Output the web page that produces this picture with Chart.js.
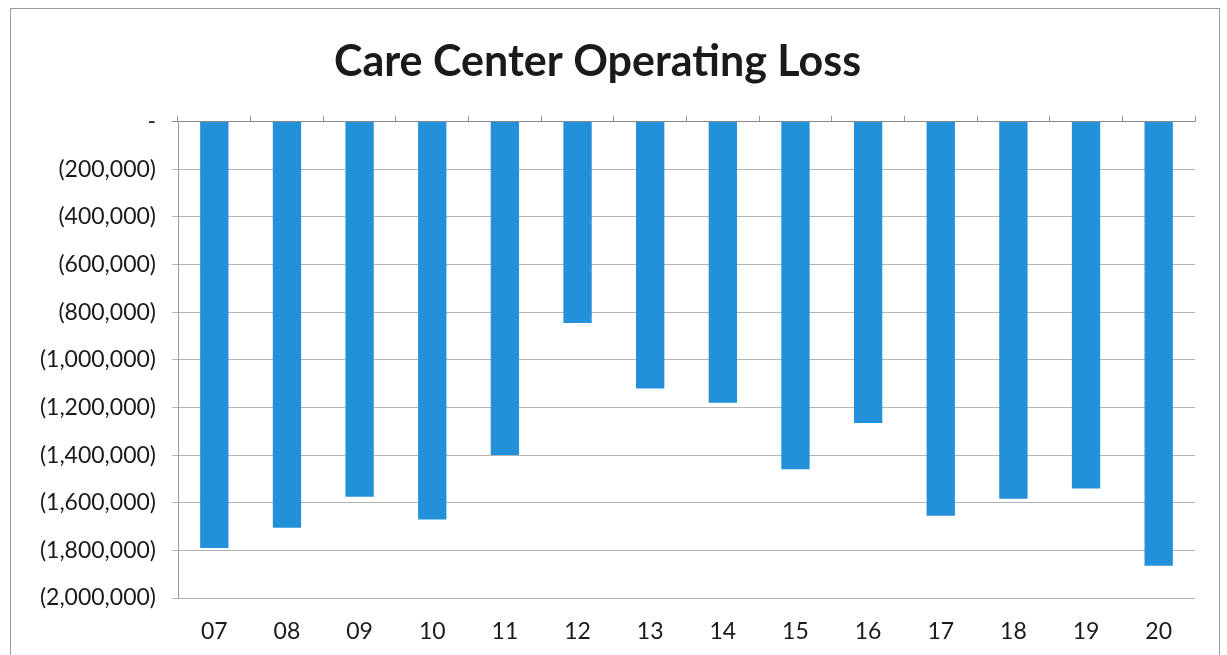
<!DOCTYPE html>
<html>
<head>
<meta charset="utf-8">
<script src="https://cdn.jsdelivr.net/npm/chart.js@4/dist/chart.umd.min.js"></script>
<style>
  html, body { margin: 0; padding: 0; background: #fff; }
  #wrap { position: relative; width: 1227px; height: 655px; }
  #frame { position: absolute; left: 10px; top: 8px; width: 1210px; height: 660px; border: 1px solid #9a9a9a; box-sizing: border-box; }
  canvas { position: absolute; left: 0; top: 0; }
</style>
</head>
<body>
<div id="wrap">
  <div id="frame"></div>
  <canvas id="lossChart" width="1227" height="655"></canvas>
</div>
<script>
// Operating loss per year
const years = ['07', '08', '09', '10', '11', '12', '13', '14', '15', '16', '17', '18', '19', '20'];
const losses = [-1790000, -1705000, -1575000, -1670000, -1400000, -845000, -1120000,
  -1180000, -1460000, -1265000, -1655000, -1583000, -1540000, -1865000];
const yMin = -2000000;
const yMax = 0;
const yStep = 200000;

const fontFamily = 'Lato, "Open Sans", sans-serif';

// Accounting style: 0 -> "-", negatives in brackets
function accounting(value) {
  if (value === 0) return '-';
  const s = Math.abs(value).toLocaleString('en-US');
  return value < 0 ? '(' + s + ')' : s;
}

const ctx = document.getElementById('lossChart').getContext('2d');
new Chart(ctx, {
  type: 'bar',
  data: {
    labels: years,
    datasets: [
      {
        label: 'Operating Loss',
        data: losses,
        backgroundColor: '#2390da',
        borderWidth: 0,
        barPercentage: 0.39,
        categoryPercentage: 1.0,
      },
    ],
  },
  options: {
    responsive: false,
    animation: false,
    layout: {
      padding: { left: 0, right: 32, top: 0, bottom: 7 },
    },
    plugins: {
      legend: { display: false },
      tooltip: { enabled: false },
      title: {
        display: true,
        text: 'Care Center Operating Loss',
        color: '#1a1a1a',
        font: { family: fontFamily, size: 43, weight: 'bold' },
        padding: { top: 36, bottom: 28 },
      },
    },
    scales: {
      x: {
        position: 'bottom',
        afterFit: (scale) => { scale.height = 50; },
        grid: { display: false },
        border: { display: false },
        ticks: {
          color: '#1a1a1a',
          font: { family: fontFamily, size: 23 },
          padding: 12,
        },
      },
      xTop: {
        position: 'top',
        type: 'category',
        labels: years,
        offset: true,
        grid: {
          offset: true,
          drawOnChartArea: false,
          tickLength: 6,
          color: '#9a9a9a',
        },
        border: { display: false },
        ticks: { display: false },
      },
      y: {
        min: yMin,
        max: yMax,
        afterFit: (scale) => { scale.width = 178; },
        grid: {
          color: (c) => (c.tick && c.tick.value === 0 ? '#8a8a8a' : '#b4b4b4'),
          lineWidth: 1,
          tickLength: 6,
        },
        border: { display: true, color: '#9a9a9a' },
        ticks: {
          stepSize: yStep,
          color: '#1a1a1a',
          font: { family: fontFamily, size: 23 },
          padding: 16,
          callback: (value) => accounting(value),
        },
      },
    },
  },
});
</script>
</body>
</html>
